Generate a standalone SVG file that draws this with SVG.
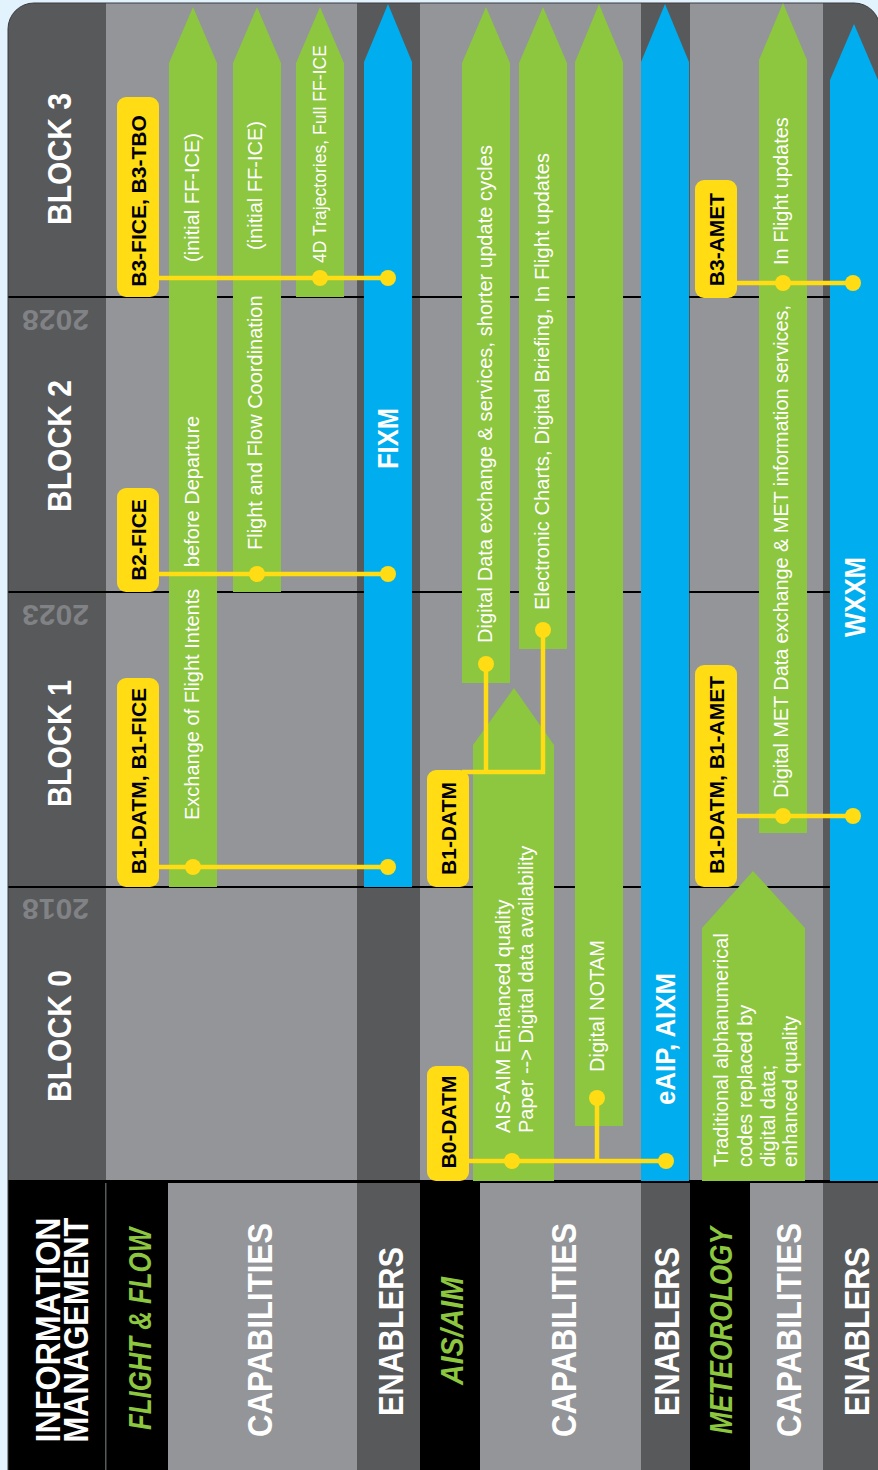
<svg xmlns="http://www.w3.org/2000/svg" width="878" height="1470" viewBox="0 0 878 1470">
<style>
.dk{fill:#58595b}
.lt{fill:#939598}
.gr{fill:#8dc63f}
.bl{fill:#00aeef}
.yl{fill:#ffdc14}
.div{stroke:#000;stroke-width:2}
.con{stroke:#ffdc14;stroke-width:4.5;fill:none}
.dot{fill:#ffdc14}
text{font-family:"Liberation Sans",Arial,sans-serif}
.hd{font-weight:bold;fill:#fff;font-size:35px;text-anchor:middle}
.sec{font-weight:bold;font-style:italic;fill:#8dc63f;font-size:32px;text-anchor:middle}
.blk{font-weight:bold;fill:#fff;font-size:33px;text-anchor:middle}
.yr{font-weight:bold;fill:#818285;font-size:30px;text-anchor:middle}
.cap{fill:#fff;font-size:20px}
.enb{font-weight:bold;fill:#fff;text-anchor:middle}
.bdg{font-weight:bold;fill:#000;font-size:21px;text-anchor:middle}
</style>
<defs>
<clipPath id="panel"><rect x="8" y="3" width="872" height="1520" rx="26"/></clipPath>
</defs>
<rect width="878" height="1470" fill="#e2f3fd"/>
<g id="panel-bg" clip-path="url(#panel)">
  <rect class="dk" x="8" y="0" width="98" height="1181"/>
  <rect class="lt" x="106" y="0" width="251" height="1181"/>
  <rect class="dk" x="357" y="0" width="63" height="1181"/>
  <rect class="lt" x="420" y="0" width="221" height="1181"/>
  <rect class="dk" x="641" y="0" width="49" height="1181"/>
  <rect class="lt" x="690" y="0" width="133" height="1181"/>
  <rect class="dk" x="823" y="0" width="60" height="1181"/>
  <line class="div" x1="8" y1="297" x2="880" y2="297"/>
  <line class="div" x1="8" y1="592" x2="880" y2="592"/>
  <line class="div" x1="8" y1="887" x2="880" y2="887"/>
  <rect x="0" y="1180" width="880" height="300" fill="#000"/>
  <rect x="105" y="1183" width="1.5" height="300" fill="#58595b"/>
  <rect class="lt" x="168" y="1183" width="189" height="300"/>
  <rect class="dk" x="357" y="1183" width="63" height="300"/>
  <rect class="lt" x="480" y="1183" width="161" height="300"/>
  <rect class="dk" x="641" y="1183" width="49" height="300"/>
  <rect class="lt" x="750" y="1183" width="73" height="300"/>
  <rect class="dk" x="823" y="1183" width="60" height="300"/>
</g>
<rect x="8" y="3" width="872" height="1520" rx="26" fill="none" stroke="#3c3d3f" stroke-width="1"/>

<g id="row-labels">
  <text class="hd" transform="translate(60,1330) rotate(-90)" textLength="225" lengthAdjust="spacingAndGlyphs">INFORMATION</text>
  <text class="hd" transform="translate(88,1330) rotate(-90)" textLength="225" lengthAdjust="spacingAndGlyphs">MANAGEMENT</text>
  <text class="sec" transform="translate(151,1329) rotate(-90)" textLength="202" lengthAdjust="spacingAndGlyphs">FLIGHT &amp; FLOW</text>
  <text class="hd" transform="translate(272,1330) rotate(-90)" textLength="214" lengthAdjust="spacingAndGlyphs">CAPABILITIES</text>
  <text class="hd" transform="translate(403,1331.5) rotate(-90)" textLength="169" lengthAdjust="spacingAndGlyphs">ENABLERS</text>
  <text class="sec" transform="translate(463,1331) rotate(-90)" textLength="108" lengthAdjust="spacingAndGlyphs">AIS/AIM</text>
  <text class="hd" transform="translate(576,1330) rotate(-90)" textLength="214" lengthAdjust="spacingAndGlyphs">CAPABILITIES</text>
  <text class="hd" transform="translate(679,1331.5) rotate(-90)" textLength="169" lengthAdjust="spacingAndGlyphs">ENABLERS</text>
  <text class="sec" style="font-size:31px" transform="translate(732,1330.5) rotate(-90)" textLength="207" lengthAdjust="spacingAndGlyphs">METEOROLOGY</text>
  <text class="hd" transform="translate(801,1330) rotate(-90)" textLength="214" lengthAdjust="spacingAndGlyphs">CAPABILITIES</text>
  <text class="hd" transform="translate(869,1331.5) rotate(-90)" textLength="169" lengthAdjust="spacingAndGlyphs">ENABLERS</text>
</g>

<g id="blocks">
  <text class="blk" transform="translate(71,1036) rotate(-90)" textLength="132" lengthAdjust="spacingAndGlyphs">BLOCK 0</text>
  <text class="blk" transform="translate(71,743.5) rotate(-90)" textLength="127" lengthAdjust="spacingAndGlyphs">BLOCK 1</text>
  <text class="blk" transform="translate(71,446) rotate(-90)" textLength="132" lengthAdjust="spacingAndGlyphs">BLOCK 2</text>
  <text class="blk" transform="translate(71,159) rotate(-90)" textLength="132" lengthAdjust="spacingAndGlyphs">BLOCK 3</text>
  <text class="yr" transform="translate(55.5,899) rotate(180)">2018</text>
  <text class="yr" transform="translate(55.5,605) rotate(180)">2023</text>
  <text class="yr" transform="translate(55.5,310) rotate(180)">2028</text>
</g>

<g id="ff-exchange">
  <polygon class="gr" points="169,887 169,63 193,7 217,63 217,887"/>
  <text class="cap" transform="translate(199,820) rotate(-90)">Exchange of Flight Intents</text>
  <text class="cap" transform="translate(199,567) rotate(-90)">before Departure</text>
  <text class="cap" transform="translate(199,262) rotate(-90)">(initial FF-ICE)</text>
</g>
<g id="ff-coordination">
  <polygon class="gr" points="233,592 233,63 257,7 281,63 281,592"/>
  <text class="cap" transform="translate(262,550) rotate(-90)">Flight and Flow Coordination</text>
  <text class="cap" transform="translate(262,250) rotate(-90)">(initial FF-ICE)</text>
</g>
<g id="ff-4d">
  <polygon class="gr" points="296,297 296,63 320,7 344,63 344,297"/>
  <text class="cap" style="font-size:17.5px" transform="translate(325.5,263) rotate(-90)" textLength="218">4D Trajectories, Full FF-ICE</text>
</g>
<g id="fixm">
  <polygon class="bl" points="364,887 364,62 388,4 412,62 412,887"/>
  <text class="enb" style="font-size:29px" transform="translate(398,438.5) rotate(-90)" textLength="61" lengthAdjust="spacingAndGlyphs">FIXM</text>
</g>

<g id="ais-enhanced">
  <polygon class="gr" points="473,1181 473,745 514,688 554,745 554,1181"/>
  <text class="cap" transform="translate(510,1133) rotate(-90)">AIS-AIM Enhanced quality</text>
  <text class="cap" transform="translate(533,1133) rotate(-90)">Paper --&gt; Digital data availability</text>
</g>
<g id="ais-digital-data">
  <polygon class="gr" points="462,683 462,63 486,7 510,63 510,683"/>
  <text class="cap" transform="translate(492,643) rotate(-90)" textLength="498">Digital Data exchange &amp; services, shorter update cycles</text>
</g>
<g id="ais-charts">
  <polygon class="gr" points="519,649 519,63 543,7 567,63 567,649"/>
  <text class="cap" transform="translate(549,610) rotate(-90)" textLength="457">Electronic Charts, Digital Briefing, In Flight updates</text>
</g>
<g id="ais-notam">
  <polygon class="gr" points="575,1126 575,62 599,4 623,62 623,1126"/>
  <text class="cap" transform="translate(604,1072) rotate(-90)">Digital NOTAM</text>
</g>
<g id="eaip">
  <polygon class="bl" points="641,1181 641,62 665,4 689,62 689,1181"/>
  <text class="enb" style="font-size:28px" transform="translate(675,1039) rotate(-90)" textLength="132" lengthAdjust="spacingAndGlyphs">eAIP, AIXM</text>
</g>

<g id="met-traditional">
  <polygon class="gr" points="702,1181 702,928 753,871 805,928 805,1181"/>
  <text class="cap" transform="translate(727.5,1167) rotate(-90)">Traditional alphanumerical</text>
  <text class="cap" transform="translate(752,1167) rotate(-90)">codes replaced by</text>
  <text class="cap" transform="translate(774.5,1167) rotate(-90)">digital data;</text>
  <text class="cap" transform="translate(796.5,1167) rotate(-90)">enhanced quality</text>
</g>
<g id="met-digital">
  <polygon class="gr" points="759,833 759,60 783,3 807,60 807,833"/>
  <text class="cap" transform="translate(788,798) rotate(-90)" textLength="493">Digital MET Data exchange &amp; MET information services,</text>
  <text class="cap" transform="translate(788,265) rotate(-90)">In Flight updates</text>
</g>
<g id="wxxm">
  <polygon class="bl" points="830,1181 830,80 854,24 878,80 878,1181"/>
  <text class="enb" style="font-size:30px" transform="translate(865,597) rotate(-90)" textLength="80" lengthAdjust="spacingAndGlyphs">WXXM</text>
</g>

<g id="connectors">
  <path class="con" d="M155 867H388M155 574H388M155 278H388"/>
  <path class="con" d="M465 1161H666M597 1161V1098"/>
  <path class="con" d="M462 772H543V630M486 772V664"/>
  <path class="con" d="M733 816H853M733 283H853"/>
  <circle class="dot" cx="193" cy="867" r="8"/>
  <circle class="dot" cx="388" cy="867" r="8"/>
  <circle class="dot" cx="257" cy="574" r="8"/>
  <circle class="dot" cx="388" cy="574" r="8"/>
  <circle class="dot" cx="320" cy="278" r="8"/>
  <circle class="dot" cx="388" cy="278" r="8"/>
  <circle class="dot" cx="512" cy="1161" r="8"/>
  <circle class="dot" cx="597" cy="1098" r="8"/>
  <circle class="dot" cx="666" cy="1161" r="8"/>
  <circle class="dot" cx="486" cy="664" r="8"/>
  <circle class="dot" cx="543" cy="630" r="8"/>
  <circle class="dot" cx="783" cy="816" r="8"/>
  <circle class="dot" cx="853" cy="816" r="8"/>
  <circle class="dot" cx="783" cy="283" r="8"/>
  <circle class="dot" cx="853" cy="283" r="8"/>
</g>

<g id="badge-b1-ff">
  <rect class="yl" x="117" y="678" width="42" height="209" rx="9"/>
  <text class="bdg" transform="translate(145.5,781) rotate(-90)">B1-DATM, B1-FICE</text>
</g>
<g id="badge-b2-ff">
  <rect class="yl" x="117" y="488" width="42" height="104" rx="9"/>
  <text class="bdg" transform="translate(145.5,540) rotate(-90)">B2-FICE</text>
</g>
<g id="badge-b3-ff">
  <rect class="yl" x="117" y="97" width="42" height="200" rx="9"/>
  <text class="bdg" transform="translate(145.5,201) rotate(-90)">B3-FICE, B3-TBO</text>
</g>
<g id="badge-b0-ais">
  <rect class="yl" x="427" y="1066" width="42" height="115" rx="9"/>
  <text class="bdg" transform="translate(455.5,1122) rotate(-90)">B0-DATM</text>
</g>
<g id="badge-b1-ais">
  <rect class="yl" x="427" y="770" width="42" height="117" rx="9"/>
  <text class="bdg" transform="translate(455.5,828.5) rotate(-90)">B1-DATM</text>
</g>
<g id="badge-b1-met">
  <rect class="yl" x="695" y="665" width="42" height="222" rx="9"/>
  <text class="bdg" transform="translate(723.5,775) rotate(-90)">B1-DATM, B1-AMET</text>
</g>
<g id="badge-b3-met">
  <rect class="yl" x="695" y="180" width="42" height="118" rx="9"/>
  <text class="bdg" transform="translate(723.5,239.5) rotate(-90)">B3-AMET</text>
</g>
</svg>
